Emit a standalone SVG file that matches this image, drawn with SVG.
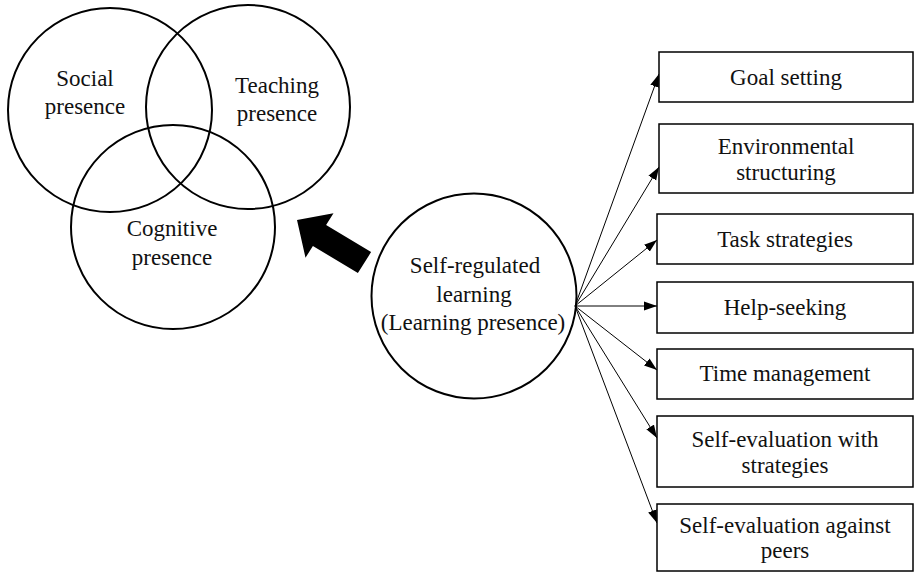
<svg xmlns="http://www.w3.org/2000/svg" width="915" height="573" viewBox="0 0 915 573">
<defs>
<style>
text{font-family:"Liberation Serif","Times New Roman",serif;font-size:23px;fill:#111;text-anchor:middle}
.c{fill:none;stroke:#000;stroke-width:2}
.b{fill:#fff;stroke:#000;stroke-width:1.5}
.l{stroke:#000;stroke-width:1;fill:none;marker-end:url(#ah)}
</style>
<marker id="ah" markerUnits="userSpaceOnUse" markerWidth="14" markerHeight="10" refX="13" refY="5" orient="auto">
<path d="M0,0.5 L13,5 L0,9.5 Z" fill="#000"/>
</marker>
</defs>
<rect width="915" height="573" fill="#fff"/>
<g id="social"><circle class="c" cx="110" cy="110" r="102"/><text x="85" y="86">Social</text><text x="85" y="114">presence</text></g>
<g id="teaching"><circle class="c" cx="248" cy="107" r="102"/><text x="277" y="93">Teaching</text><text x="277" y="121">presence</text></g>
<g id="cognitive"><circle class="c" cx="173" cy="227" r="102"/><text x="172" y="236">Cognitive</text><text x="172" y="265">presence</text></g>
<g id="bigarrow"><polygon points="297,220 333.5,213.3 326.1,225.1 371.1,252.1 357.9,273 312.9,246 305.5,257.7" fill="#000"/></g>
<g id="srl"><circle class="c" cx="474" cy="296" r="102.5"/><text x="475" y="273">Self-regulated</text><text x="474" y="302">learning</text><text x="473" y="330">(Learning presence)</text></g>
<g id="connectors">
<line class="l" x1="575" y1="306" x2="659" y2="74"/>
<line class="l" x1="575" y1="306" x2="659" y2="167"/>
<line class="l" x1="575" y1="306" x2="657" y2="240"/>
<line class="l" x1="575" y1="306" x2="657" y2="306"/>
<line class="l" x1="575" y1="306" x2="657" y2="370"/>
<line class="l" x1="575" y1="306" x2="657" y2="438"/>
<line class="l" x1="575" y1="306" x2="657" y2="523"/>
</g>
<g id="goal"><rect class="b" x="659" y="52" width="254" height="50"/><text x="786" y="85">Goal setting</text></g>
<g id="env"><rect class="b" x="659" y="124" width="254" height="69"/><text x="786" y="154">Environmental</text><text x="786" y="180">structuring</text></g>
<g id="task"><rect class="b" x="657" y="214" width="256" height="50"/><text x="785" y="247">Task strategies</text></g>
<g id="help"><rect class="b" x="657" y="282" width="256" height="51"/><text x="785" y="315">Help-seeking</text></g>
<g id="time"><rect class="b" x="657" y="349" width="256" height="50"/><text x="785" y="381">Time management</text></g>
<g id="evalwith"><rect class="b" x="657" y="416" width="256" height="71"/><text x="785" y="447">Self-evaluation with</text><text x="785" y="473">strategies</text></g>
<g id="evalpeers"><rect class="b" x="657" y="504" width="256" height="67"/><text x="785" y="533">Self-evaluation against</text><text x="785" y="558">peers</text></g>
</svg>
